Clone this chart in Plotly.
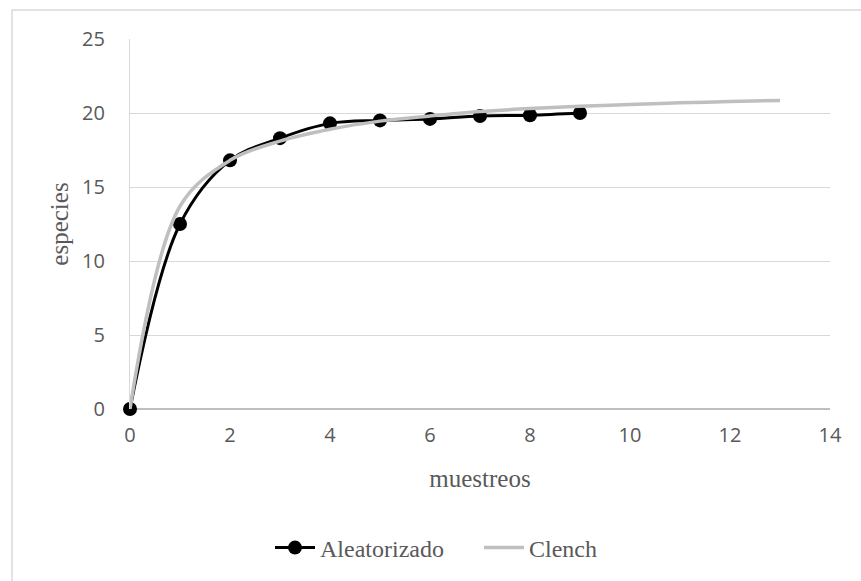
import plotly.graph_objects as go

# Species accumulation: randomized samples vs. Clench model
muestreos_obs = [0, 1, 2, 3, 4, 5, 6, 7, 8, 9]
especies_aleatorizado = [0, 12.5, 16.8, 18.3, 19.3, 19.5, 19.6, 19.8, 19.85, 20.0]

muestreos_clench = [0, 1, 2, 3, 4, 5, 6, 7, 8, 9, 10, 11, 12, 13]
especies_clench = [0, 13.7, 16.8, 18.1, 18.9, 19.45, 19.8, 20.1, 20.3, 20.45, 20.58, 20.69, 20.77, 20.85]

x_ticks = [0, 2, 4, 6, 8, 10, 12, 14]
y_ticks = [0, 5, 10, 15, 20, 25]

W, H = 861, 581
ML, MR, MT, MB = 130, 31, 39, 171
PW, PH = W - ML - MR, H - MT - MB


def px_x(p):
    """Pixel column -> paper x fraction."""
    return (p - ML) / PW


def px_y(p):
    """Pixel row -> paper y fraction."""
    return (H - MB - p) / PH


TICK_FONT = dict(family="Open Sans, Noto Sans, sans-serif", size=20, color="#595959")
SERIF = "Liberation Serif, Times New Roman, serif"

fig = go.Figure()

fig.add_trace(go.Scatter(
    x=muestreos_obs, y=especies_aleatorizado, name="Aleatorizado",
    mode="lines+markers", cliponaxis=False,
    line=dict(color="#000000", width=3, shape="spline", smoothing=1),
    marker=dict(color="#000000", size=14),
))
fig.add_trace(go.Scatter(
    x=muestreos_clench, y=especies_clench, name="Clench",
    mode="lines", cliponaxis=False,
    line=dict(color="#bfbfbf", width=3.5, shape="spline", smoothing=1),
))

# Outer chart frame (light grey border)
fig.add_shape(
    type="rect", xref="paper", yref="paper",
    x0=px_x(12), x1=px_x(W + 5),
    y0=px_y(H + 5), y1=px_y(10),
    line=dict(color="#d9d9d9", width=1.5), fillcolor="rgba(0,0,0,0)", layer="below",
)

fig.update_layout(
    width=W, height=H,
    margin=dict(l=ML, r=MR, t=MT, b=MB),
    paper_bgcolor="white", plot_bgcolor="white",
    showlegend=True,
    legend=dict(
        orientation="h", x=px_x(270), xanchor="left", y=px_y(548), yanchor="middle",
        font=dict(family=SERIF, size=24, color="#595959"),
        itemwidth=40, entrywidth=154, traceorder="normal",
    ),
)

fig.update_xaxes(
    range=[0, 14], tickvals=x_ticks, ticktext=[str(v) for v in x_ticks],
    showgrid=False, zeroline=False,
    showline=False, ticks="", tickfont=TICK_FONT, ticklabelstandoff=12,
    title=dict(text="muestreos", font=dict(family=SERIF, size=25, color="#595959"), standoff=22),
)
fig.update_yaxes(
    range=[0, 25], tickvals=y_ticks, ticktext=[str(v) for v in y_ticks],
    showgrid=True, gridcolor="#d9d9d9", gridwidth=1.3,
    zeroline=True, zerolinecolor="#bfbfbf", zerolinewidth=1.5,
    showline=True, linecolor="#d9d9d9", linewidth=1.3, ticks="", tickfont=TICK_FONT,
    ticklabelstandoff=20,
    title=dict(text="especies", font=dict(family=SERIF, size=25, color="#595959"), standoff=6),
)

fig.write_html("out.html")
